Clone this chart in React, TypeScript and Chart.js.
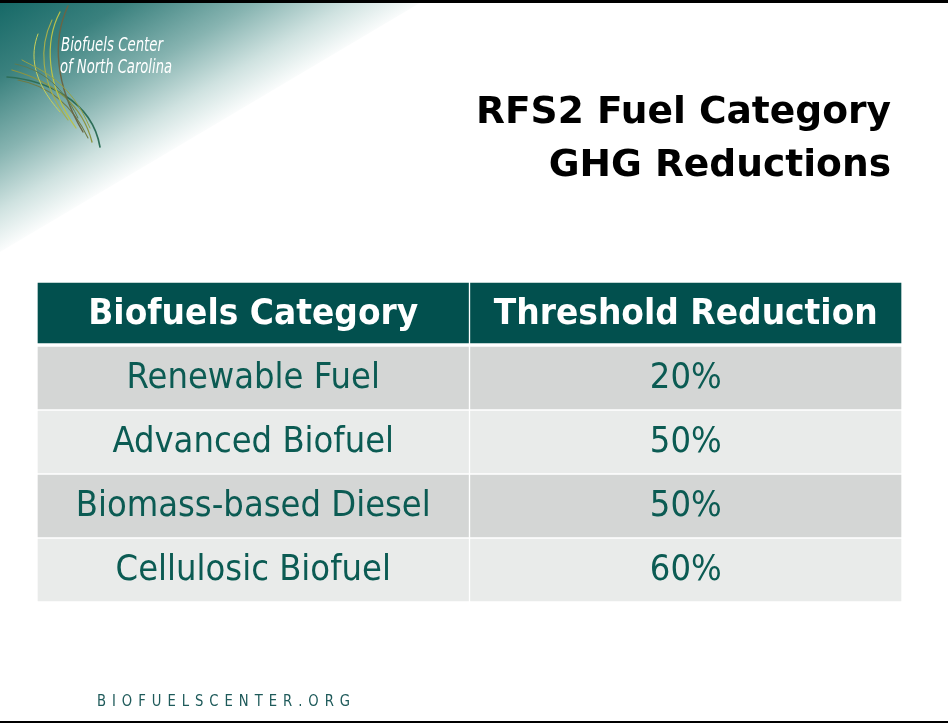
import React, { useEffect, useRef } from "react";
import { Chart, registerables } from "chart.js";

Chart.register(...registerables);

const titleLines = ["RFS2 Fuel Category", "GHG Reductions"];
const headers = ["Biofuels Category", "Threshold Reduction"];
const categories = ["Renewable Fuel", "Advanced Biofuel", "Biomass-based Diesel", "Cellulosic Biofuel"];
const thresholds = [20, 50, 50, 60];
const logoLines = ["Biofuels Center", "of North Carolina"];
const footerText = "BIOFUELSCENTER.ORG";

const HEADER_BG = "#02504E";
const ROW_BG = ["#D4D6D5", "#E9EBEA"];
const TEXT_TEAL = "#0B5B53";

function fitScale(ctx: CanvasRenderingContext2D, font: string, ref: string, target: number) {
  ctx.save();
  ctx.font = font;
  const w = ctx.measureText(ref).width;
  ctx.restore();
  return target / w;
}

function drawText(
  ctx: CanvasRenderingContext2D,
  text: string,
  x: number,
  y: number,
  font: string,
  sx: number,
  align: CanvasTextAlign,
  color: string
) {
  ctx.save();
  ctx.font = font;
  ctx.fillStyle = color;
  ctx.textAlign = align;
  ctx.textBaseline = "alphabetic";
  ctx.translate(x, y);
  ctx.scale(sx, 1);
  ctx.fillText(text, 0, 0);
  ctx.restore();
}

const slidePlugin = {
  id: "slide",
  beforeDraw(chart: any) {
    const ctx: CanvasRenderingContext2D = chart.ctx;
    const W = chart.width;
    const H = chart.height;
    ctx.save();
    ctx.fillStyle = "#FFFFFF";
    ctx.fillRect(0, 0, W, H);
    // teal corner
    const g = ctx.createLinearGradient(0, 0, 112, 190);
    g.addColorStop(0, "#156866");
    g.addColorStop(0.3, "#3A817E");
    g.addColorStop(0.6, "#87B4B1");
    g.addColorStop(0.82, "#CFE2E0");
    g.addColorStop(1, "rgba(255,255,255,1)");
    ctx.fillStyle = g;
    ctx.beginPath();
    ctx.moveTo(0, 0);
    ctx.lineTo(425, 0);
    ctx.lineTo(0, 252);
    ctx.closePath();
    ctx.fill();
    // grass strands
    const strands: [number, number, number, number, number, number, number, number, string, number][] = [
      [100, 147, 92, 100, 45, 80, 7, 77, "#2E6E58", 1.6],
      [92, 142, 80, 95, 40, 78, 12, 70, "#8C9440", 1.3],
      [88, 138, 70, 100, 45, 85, 18, 80, "#6F7A44", 1.1],
      [83, 132, 55, 85, 52, 40, 68, 6, "#6A6545", 1.4],
      [76, 128, 45, 85, 45, 40, 60, 12, "#B9C24A", 1.2],
      [68, 120, 38, 80, 40, 45, 52, 20, "#A5AE4C", 1.1],
      [60, 112, 32, 80, 30, 55, 38, 34, "#C8CF5A", 1.0],
      [90, 128, 70, 80, 40, 70, 22, 60, "#97A245", 1.0],
      [78, 118, 60, 80, 35, 68, 15, 64, "#5D7A50", 1.0],
    ];
    ctx.lineCap = "round";
    for (const s of strands) {
      ctx.strokeStyle = s[8];
      ctx.lineWidth = s[9];
      ctx.beginPath();
      ctx.moveTo(s[0], s[1]);
      ctx.bezierCurveTo(s[2], s[3], s[4], s[5], s[6], s[7]);
      ctx.stroke();
    }
    ctx.restore();

    // logo text
    const logoFont = 'italic 19px "DejaVu Sans Condensed", "DejaVu Sans"';
    const lsx = fitScale(ctx, logoFont, logoLines[0], 102);
    drawText(ctx, logoLines[0], 61, 51, logoFont, lsx, "left", "#FFFFFF");
    drawText(ctx, logoLines[1], 60, 73, logoFont, fitScale(ctx, logoFont, logoLines[1], 112), "left", "#FFFFFF");

    // borders
    ctx.save();
    ctx.fillStyle = "#000000";
    ctx.fillRect(0, 0, W, 3);
    ctx.fillRect(0, H - 2, W, 2);
    ctx.restore();

    // title
    const tFont = 'bold 38px "DejaVu Sans"';
    const tsx = fitScale(ctx, tFont, titleLines[0], 415);
    drawText(ctx, titleLines[0], 891, 123, tFont, tsx, "right", "#000000");
    drawText(ctx, titleLines[1], 891, 176, tFont, tsx, "right", "#000000");

    // footer
    ctx.save();
    ctx.font = '15px "DejaVu Sans"';
    ctx.fillStyle = "#1E5A5A";
    const chars = footerText.split("");
    const widths = chars.map((c) => ctx.measureText(c).width);
    const total = widths.reduce((a, b) => a + b, 0);
    const cs = 0.88;
    const spacing = (253 - total * cs) / (chars.length - 1);
    let fx = 97;
    chars.forEach((c, i) => {
      ctx.save();
      ctx.translate(fx, 706);
      ctx.scale(cs, 1);
      ctx.fillText(c, 0, 0);
      ctx.restore();
      fx += widths[i] * cs + spacing;
    });
    ctx.restore();
  },
  afterDatasetsDraw(chart: any) {
    const ctx: CanvasRenderingContext2D = chart.ctx;
    const hFont = 'bold 35px "DejaVu Sans"';
    const rFont = '36px "DejaVu Sans"';
    const hsx = fitScale(ctx, hFont, headers[1], 384);
    const rsx = fitScale(ctx, rFont, categories[2], 355);
    chart.data.datasets.forEach((ds: any, di: number) => {
      const meta = chart.getDatasetMeta(di);
      meta.data.forEach((el: any, ri: number) => {
        const p = el.getProps(["x", "y", "base", "height"], true);
        const cx = (p.x + p.base) / 2;
        if (ri === 0) {
          drawText(ctx, headers[di], cx, p.y + 10, hFont, hsx, "center", "#FFFFFF");
        } else {
          const txt = di === 0 ? categories[ri - 1] : `${thresholds[ri - 1]}%`;
          drawText(ctx, txt, cx, p.y + 9.5, rFont, rsx, "center", TEXT_TEAL);
        }
      });
    });
  },
};

export default function App() {
  const ref = useRef<HTMLCanvasElement | null>(null);
  useEffect(() => {
    document.body.style.margin = "0";
    const canvas = ref.current;
    if (!canvas) return;
    const rowLabels = [headers[0], ...categories];
    const bg = rowLabels.map((_, i) => (i === 0 ? HEADER_BG : ROW_BG[(i - 1) % 2]));
    const bw = rowLabels.map((_, i) =>
      i === 0 ? { top: 1, bottom: 3, left: 1, right: 1 } : { top: 1, bottom: 1, left: 1, right: 1 }
    );
    const chart = new Chart(canvas, {
      type: "bar",
      data: {
        labels: rowLabels,
        datasets: [
          {
            label: headers[0],
            data: rowLabels.map(() => [0, 1]) as any,
            backgroundColor: bg,
            borderColor: "#FFFFFF",
            borderWidth: bw as any,
            borderSkipped: false,
            barPercentage: 1,
            categoryPercentage: 1,
            grouped: false,
          },
          {
            label: headers[1],
            data: rowLabels.map(() => [1, 2]) as any,
            backgroundColor: bg,
            borderColor: "#FFFFFF",
            borderWidth: bw as any,
            borderSkipped: false,
            barPercentage: 1,
            categoryPercentage: 1,
            grouped: false,
          },
        ],
      },
      options: {
        indexAxis: "y",
        responsive: false,
        animation: false,
        layout: { padding: { left: 37, right: 46, top: 282, bottom: 121 } },
        plugins: { legend: { display: false }, tooltip: { enabled: false }, title: { display: false } },
        scales: {
          x: { type: "linear", min: 0, max: 2, display: false },
          y: { type: "category", display: false },
        },
      },
      plugins: [slidePlugin],
    });
    return () => chart.destroy();
  }, []);
  return (
    <div style={{ position: "absolute", left: 0, top: 0, width: 948, height: 723 }}>
      <canvas ref={ref} width={948} height={723} style={{ width: 948, height: 723 }} />
    </div>
  );
}
